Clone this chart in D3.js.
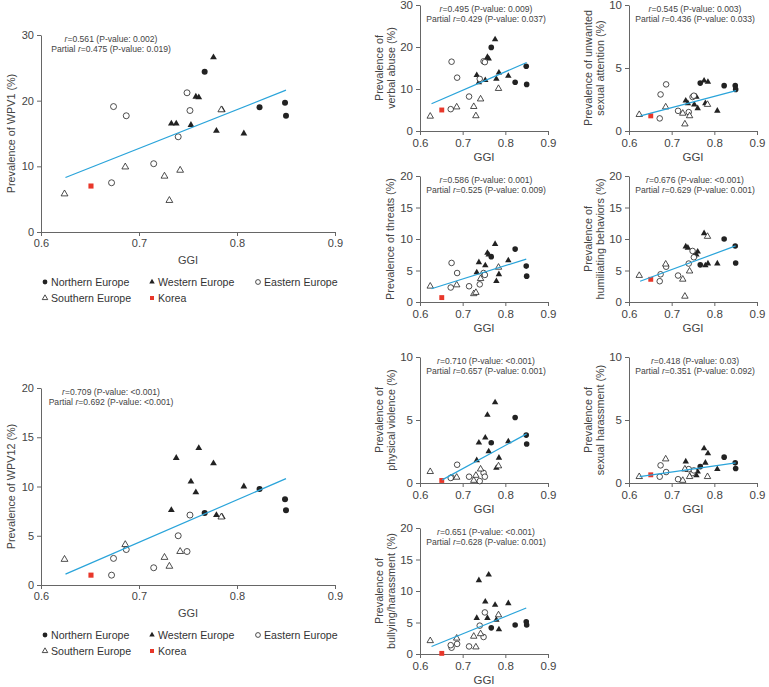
<!DOCTYPE html>
<html>
<head>
<meta charset="utf-8">
<script src="https://cdn.jsdelivr.net/npm/d3@7"></script>
<style>
  body { margin: 0; background: #fff; }
  svg { display: block; font-family: "Liberation Sans", Arial, sans-serif; }
</style>
</head>
<body>
<div id="chart"></div>
<script>
// Countries: region and GGI (same order in every value list below)
const region = ["N","N","N","N",
  "W","W","W","W","W","W","W","W","W",
  "E","E","E","E","E","E","E",
  "S","S","S","S","S","S",
  "K"];
const ggi = [0.767, 0.823, 0.849, 0.850,
  0.776, 0.758, 0.761, 0.785, 0.733, 0.738, 0.753, 0.779, 0.807,
  0.674, 0.687, 0.749, 0.752, 0.740, 0.715, 0.672,
  0.624, 0.686, 0.726, 0.742, 0.731, 0.784,
  0.651];

// Prevalence values (%) per panel
const wpv1 = [24.4, 19.0, 19.7, 17.7,
  26.6, 20.6, 20.5, 18.6, 16.5, 16.5, 16.3, 15.4, 15.0,
  19.1, 17.7, 21.2, 18.5, 14.5, 10.4, 7.5,
  5.8, 9.9, 8.5, 9.4, 4.8, 18.6,
  7.0];
const wpv12 = [7.3, 9.75, 8.7, 7.6,
  12.35, 9.4, 13.9, 6.9, 7.6, 12.9, 10.5, 7.1, 10.0,
  2.7, 3.6, 3.4, 7.1, 5.0, 1.75, 1.0,
  2.6, 4.1, 2.8, 3.4, 1.9, 6.9,
  1.0];
const verbal = [19.9, 11.6, 15.4, 11.1,
  21.8, 17.6, 17.2, 13.9, 13.3, 11.6, 12.1, 12.4, 13.1,
  16.5, 12.7, 16.6, 16.4, 12.4, 8.2, 5.2,
  3.5, 5.7, 5.8, 7.6, 3.6, 10.1,
  5.0];
const unwanted = [3.8, 3.6, 3.6, 3.3,
  4.0, 2.7, 1.8, 3.9, 2.4, 2.2, 2.1, 2.2, 1.6,
  2.9, 3.7, 2.7, 2.8, 1.5, 1.6, 1.0,
  1.3, 1.9, 1.4, 1.2, 0.55, 2.1,
  1.2];
const threats = [7.2, 8.4, 5.7, 4.1,
  9.2, 7.8, 7.5, 4.4, 4.7, 6.3, 5.8, 3.3, 6.6,
  6.2, 4.6, 4.6, 4.3, 2.8, 2.5, 2.3,
  2.5, 2.7, 1.3, 3.7, 1.5, 5.5,
  0.7];
const humiliating = [5.9, 10.0, 8.9, 6.2,
  10.9, 7.5, 8.0, 6.1, 8.8, 8.6, 7.3, 5.8, 6.1,
  4.4, 5.6, 8.1, 7.1, 6.1, 4.2, 3.3,
  4.2, 6.0, 3.6, 4.9, 0.9, 10.4,
  3.6];
const physical = [3.2, 5.2, 3.8, 3.1,
  6.4, 5.4, 2.5, 2.0, 1.8, 3.2, 3.6, 1.2, 3.3,
  0.45, 1.45, 0.8, 0.5, 0.15, 0.5, 0.4,
  0.9, 0.45, 0.2, 1.1, 0.6, 1.35,
  0.2];
const sexualHar = [1.3, 2.05, 1.6, 1.15,
  2.75, 0.6, 0.9, 2.35, 1.7, 1.05, 0.8, 1.6, 1.1,
  1.4, 0.87, 0.8, 1.0, 1.1, 0.3, 0.5,
  0.5, 1.9, 0.2, 0.5, 1.1, 0.5,
  0.65];
const bullying = [4.15, 4.6, 5.1, 4.6,
  7.8, 5.7, 12.6, 3.9, 5.7, 11.7, 8.3, 5.4, 8.05,
  1.0, 1.6, 2.7, 6.6, 4.5, 1.2, 1.4,
  2.1, 2.5, 2.8, 3.2, 1.1, 6.2,
  0.1];

// Fitted lines: [ggi0, y0, ggi1, y1]
const fitWpv1 = [0.625, 8.3, 0.85, 21.6];
const fitWpv12 = [0.625, 1.1, 0.85, 10.8];
const fitVerbal = [0.627, 6.5, 0.85, 16.3];
const fitUnwanted = [0.627, 1.2, 0.851, 3.2];
const fitThreats = [0.627, 2.1, 0.849, 6.8];
const fitHumiliating = [0.626, 3.3, 0.85, 8.9];
const fitPhysical = [0.652, 0.25, 0.85, 3.9];
const fitSexualHar = [0.625, 0.5, 0.85, 1.6];
const fitBullying = [0.627, 1.2, 0.849, 7.3];

// Correlation notes: [r, p, partial r, p]
const statWpv1 = ["0.561", "0.002", "0.475", "0.019"];
const statWpv12 = ["0.709", "<0.001", "0.692", "<0.001"];
const statVerbal = ["0.495", "0.009", "0.429", "0.037"];
const statUnwanted = ["0.545", "0.003", "0.436", "0.033"];
const statThreats = ["0.586", "0.001", "0.525", "0.009"];
const statHumiliating = ["0.676", "<0.001", "0.629", "0.001"];
const statPhysical = ["0.710", "<0.001", "0.657", "0.001"];
const statSexualHar = ["0.418", "0.03", "0.351", "0.092"];
const statBullying = ["0.651", "<0.001", "0.628", "0.001"];

const xTicks = [0.6, 0.7, 0.8, 0.9];
const legendKeys = ["N", "W", "E", "S", "K"];
const legendLabels = ["Northern Europe", "Western Europe", "Eastern Europe", "Southern Europe", "Korea"];

const width = 769, height = 687;
const ink = "#222", axisColor = "#666", textColor = "#444";
const korea = "#e8372a", fitColor = "#2aa4da";

const svg = d3.select("#chart").append("svg")
  .attr("width", width).attr("height", height)
  .attr("viewBox", [0, 0, width, height]);

function marker(sel, key, s) {
  if (key === "N" || key === "E") {
    sel.append("circle").attr("r", s.r)
      .attr("fill", key === "N" ? ink : "#fff")
      .attr("stroke", ink).attr("stroke-width", key === "N" ? 0 : 0.8);
  } else if (key === "W" || key === "S") {
    sel.append("path").attr("d", d3.symbol(d3.symbolTriangle, s.tri)())
      .attr("fill", key === "W" ? ink : "#fff")
      .attr("stroke", ink).attr("stroke-width", key === "W" ? 0 : 0.8);
  } else {
    sel.append("path").attr("d", d3.symbol(d3.symbolSquare, s.sq)())
      .attr("fill", korea);
  }
}

function panel(o) {
  const x = d3.scaleLinear().domain([0.6, 0.9]).range([o.left, o.right]);
  const y = d3.scaleLinear().domain([0, o.ymax]).range([o.bottom, o.top]);
  const g = svg.append("g");
  const fs = o.big ? 11 : 11.5;

  g.append("g")
    .attr("transform", `translate(0,${o.bottom})`)
    .call(d3.axisBottom(x).tickValues(xTicks).tickFormat(d3.format(".1f"))
      .tickSize(4).tickSizeOuter(0).tickPadding(o.big ? 3 : 4))
    .call(a => a.selectAll("text").attr("font-size", fs).attr("fill", textColor));

  g.append("g")
    .attr("transform", `translate(${o.left},0)`)
    .call(d3.axisLeft(y).tickValues(o.yticks).tickSize(4).tickSizeOuter(0).tickPadding(3))
    .call(a => a.selectAll("text").attr("font-size", fs).attr("fill", textColor));

  g.selectAll(".domain, .tick line").attr("stroke", axisColor);

  // x title
  g.append("text")
    .attr("x", (o.left + o.right) / 2).attr("y", o.bottom + (o.big ? 32 : 30))
    .attr("text-anchor", "middle").attr("font-size", fs).attr("fill", textColor)
    .text("GGI");

  // y title
  const cy = (o.top + o.bottom) / 2;
  o.title.forEach((t, i) => {
    const tx = o.left - (o.title.length === 2 ? (i === 0 ? 41 : 29) : 30) ;
    g.append("text")
      .attr("transform", `translate(${tx},${cy}) rotate(-90)`)
      .attr("text-anchor", "middle").attr("dy", "0.35em")
      .attr("font-size", 10.8).attr("fill", textColor)
      .text(t);
  });

  // stats note
  const nx = o.big ? o.left + 70 : (o.left + o.right) / 2 + 2;
  const note = g.append("g").attr("font-size", 8.6).attr("fill", textColor).attr("text-anchor", "middle");
  const l1 = note.append("text").attr("x", nx).attr("y", o.top + 6.5);
  l1.append("tspan").attr("font-style", "italic").text("r");
  l1.append("tspan").text(`=${o.stat[0]} (P-value: ${o.stat[1]})`);
  const l2 = note.append("text").attr("x", nx).attr("y", o.top + 17);
  l2.append("tspan").text("Partial ");
  l2.append("tspan").attr("font-style", "italic").text("r");
  l2.append("tspan").text(`=${o.stat[2]} (P-value: ${o.stat[3]})`);

  // points
  const size = o.big ? { r: 3, tri: 20, sq: 26 } : { r: 2.8, tri: 18, sq: 24 };
  const pts = ggi.map((v, i) => ({ g: v, v: o.values[i], k: region[i] }));
  g.append("g").selectAll("g")
    .data(pts)
    .join("g")
    .attr("transform", d => `translate(${x(d.g)},${y(d.v)})`)
    .each(function (d) { marker(d3.select(this), d.k, size); });

  // fitted line
  g.append("line")
    .attr("x1", x(o.fit[0])).attr("y1", y(o.fit[1]))
    .attr("x2", x(o.fit[2])).attr("y2", y(o.fit[3]))
    .attr("stroke", fitColor).attr("stroke-width", 1.2);

  // legend
  if (o.big) {
    const lg = g.append("g").attr("font-size", 10.6).attr("fill", "#333");
    const cols = [45, 152, 258];
    legendKeys.forEach((k, i) => {
      const row = i < 3 ? 0 : 1;
      const col = i < 3 ? i : i - 3;
      const item = lg.append("g")
        .attr("transform", `translate(${cols[col]},${o.bottom + 50 + row * 16})`);
      marker(item, k, { r: 2.4, tri: 13, sq: 16 });
      item.append("text").attr("x", 6).attr("dy", "0.35em").text(legendLabels[i]);
    });
  }
}

panel({ big: true, left: 41, right: 335, top: 35, bottom: 232, ymax: 30, yticks: [0, 10, 20, 30],
  title: ["Prevalence of WPV1 (%)"], values: wpv1, fit: fitWpv1, stat: statWpv1 });
panel({ big: true, left: 41, right: 335, top: 388, bottom: 585, ymax: 20, yticks: [0, 5, 10, 15, 20],
  title: ["Prevalence of WPV12 (%)"], values: wpv12, fit: fitWpv12, stat: statWpv12 });
panel({ left: 420, right: 548, top: 5, bottom: 131, ymax: 30, yticks: [0, 10, 20, 30],
  title: ["Prevalence of", "verbal abuse (%)"], values: verbal, fit: fitVerbal, stat: statVerbal });
panel({ left: 629, right: 757, top: 5, bottom: 131, ymax: 10, yticks: [0, 5, 10],
  title: ["Prevalence of unwanted", "sexual attention (%)"], values: unwanted, fit: fitUnwanted, stat: statUnwanted });
panel({ left: 420, right: 548, top: 176, bottom: 302, ymax: 20, yticks: [0, 5, 10, 15, 20],
  title: ["Prevalence of threats (%)"], values: threats, fit: fitThreats, stat: statThreats });
panel({ left: 629, right: 757, top: 176, bottom: 302, ymax: 20, yticks: [0, 5, 10, 15, 20],
  title: ["Prevalence of", "humiliating behaviors (%)"], values: humiliating, fit: fitHumiliating, stat: statHumiliating });
panel({ left: 420, right: 548, top: 357, bottom: 483, ymax: 10, yticks: [0, 5, 10],
  title: ["Prevalence of", "physical violence (%)"], values: physical, fit: fitPhysical, stat: statPhysical });
panel({ left: 629, right: 757, top: 357, bottom: 483, ymax: 10, yticks: [0, 5, 10],
  title: ["Prevalence of", "sexual  harassment (%)"], values: sexualHar, fit: fitSexualHar, stat: statSexualHar });
panel({ left: 420, right: 548, top: 528, bottom: 654, ymax: 20, yticks: [0, 5, 10, 15, 20],
  title: ["Prevalence of", "bullying/harassment (%)"], values: bullying, fit: fitBullying, stat: statBullying });
</script>
</body>
</html>
